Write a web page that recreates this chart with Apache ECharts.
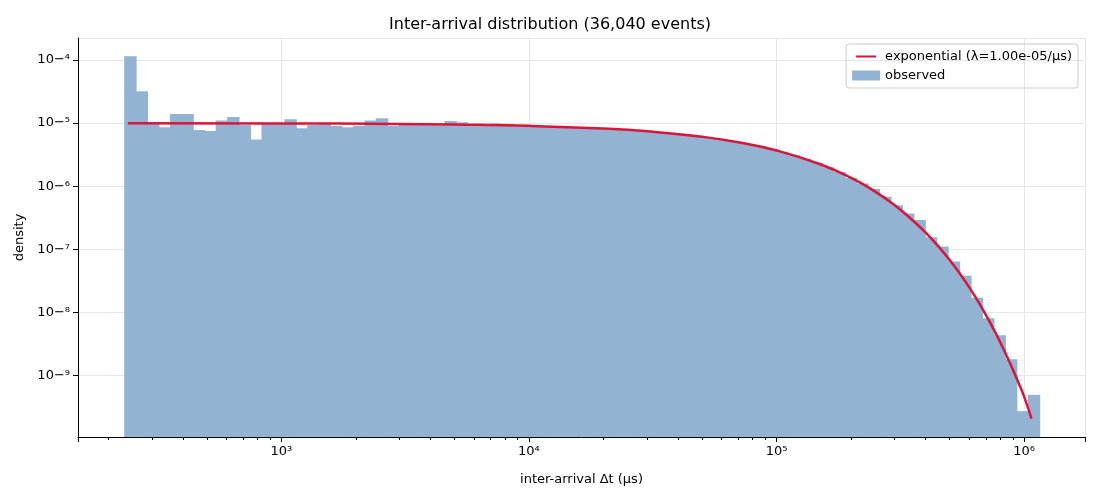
<!DOCTYPE html>
<html>
<head>
<meta charset="utf-8">
<script src="https://cdn.jsdelivr.net/npm/echarts@6/dist/echarts.min.js"></script>
<style>html,body{margin:0;padding:0;background:#fff}#main{width:1100px;height:500px}</style>
</head>
<body>
<div id="main"></div>
<script>
// histogram bins: log-spaced from binLo to binHi
const binLo = 232;
const binHi = 1.15e6;
const density = [
  1.15e-4, 3.2e-5, 1.0e-5, 8.6e-6, 1.39e-5, 1.39e-5, 7.8e-6, 7.5e-6, 1.1e-5, 1.25e-5,
  9.3e-6, 5.5e-6, 1.0e-5, 1.0e-5, 1.15e-5, 8.3e-6, 9.3e-6, 9.6e-6, 9.0e-6, 8.6e-6,
  9.0e-6, 1.1e-5, 1.2e-5, 9.0e-6, 9.6e-6, 9.66e-6, 9.62e-6, 9.58e-6, 1.08e-5, 1.03e-5,
  9.42e-6, 9.36e-6, 9.9e-6, 9.8e-6, 9.13e-6, 9.04e-6, 8.93e-6, 8.82e-6, 8.9e-6, 8.56e-6,
  8.41e-6, 8.25e-6, 8.08e-6, 7.89e-6, 7.68e-6, 7.46e-6, 7.21e-6, 6.95e-6, 6.68e-6, 6.38e-6,
  6.07e-6, 5.74e-6, 5.39e-6, 5.03e-6, 4.66e-6, 4.28e-6, 3.89e-6, 3.5e-6, 3.1e-6, 2.73e-6,
  2.36e-6, 2.0e-6, 1.68e-6, 1.35e-6, 1.1e-6, 9.0e-7, 6.8e-7, 5.0e-7, 3.7e-7, 2.9e-7,
  1.55e-7, 1.1e-7, 6.4e-8, 3.8e-8, 1.7e-8, 8.0e-9, 4.3e-9, 1.8e-9, 2.7e-10, 4.9e-10
];
const fitT = [240, 1000, 3000, 5000, 10000, 20000, 30000, 50000, 70000, 100000, 150000, 200000,
  250000, 300000, 350000, 400000, 450000, 500000, 550000, 600000, 650000, 700000, 750000,
  800000, 850000, 900000, 950000, 1000000, 1070000];
const fitY = [9.98e-6, 9.9e-6, 9.7e-6, 9.51e-6, 9.05e-6, 8.19e-6, 7.41e-6, 6.07e-6, 4.97e-6, 3.68e-6,
  2.23e-6, 1.35e-6, 8.2e-7, 4.98e-7, 3.0e-7, 1.83e-7, 1.11e-7, 6.74e-8, 4.09e-8, 2.48e-8, 1.5e-8,
  9.1e-9, 5.5e-9, 3.35e-9, 2.03e-9, 1.23e-9, 7.5e-10, 4.54e-10, 2.05e-10];

const nBins = density.length;
const step = (Math.log10(binHi) - Math.log10(binLo)) / nBins;
const bars = density.map((d, i) => [
  Math.pow(10, Math.log10(binLo) + step * i),
  Math.pow(10, Math.log10(binLo) + step * (i + 1)),
  d
]);
const fitData = fitT.map((t, i) => [t, fitY[i]]);
const yMin = 1.05e-10;

const sup = { '-': '\u2212', '0': '\u2070', '1': '\u00b9', '2': '\u00b2', '3': '\u00b3', '4': '\u2074',
  '5': '\u2075', '6': '\u2076', '7': '\u2077', '8': '\u2078', '9': '\u2079' };
function powLabel(v) {
  const e = Math.round(Math.log10(v));
  if (Math.abs(Math.log10(v) - e) > 1e-6) return '';
  return '10' + String(e).split('').map(c => sup[c]).join('');
}

const chart = echarts.init(document.getElementById('main'));
chart.setOption({
  animation: false,
  textStyle: { fontFamily: 'DejaVu Sans' },
  title: {
    text: 'Inter-arrival distribution (36,040 events)',
    left: 'center', top: 12,
    textStyle: { fontSize: 16, fontWeight: 'normal', color: '#000' }
  },
  legend: {
    top: 44, right: 22, orient: 'vertical', itemGap: 6, itemWidth: 28, itemHeight: 10,
    borderColor: '#ccc', borderWidth: 1, borderRadius: 3, padding: [6, 6],
    textStyle: { fontSize: 13, color: '#000' },
    data: [
      { name: 'exponential (\u03bb=1.00e-05/\u03bcs)', icon: 'path://M0,0h0.01v0.01h-0.01zM0,4h20v2h-20zM0,9.99h0.01v0.01h-0.01z', itemStyle: { color: '#dc143c' } },
      { name: 'observed', icon: 'rect', itemStyle: { color: '#92b3d1' } }
    ]
  },
  grid: { left: 78, right: 15, top: 38, bottom: 63 },
  xAxis: {
    type: 'log', logBase: 10, min: 151, max: 1.76e6,
    name: 'inter-arrival \u0394t (\u03bcs)', nameLocation: 'middle', nameGap: 36,
    nameTextStyle: { fontSize: 13, color: '#000' },
    axisLine: { lineStyle: { color: '#000' } },
    axisTick: { lineStyle: { color: '#000' }, length: 5 },
    minorTick: { show: true, splitNumber: 9, length: 3, lineStyle: { color: '#000' } },
    axisLabel: { color: '#000', fontSize: 13, formatter: powLabel, showMinLabel: false, showMaxLabel: false },
    splitLine: { show: true, lineStyle: { color: '#e6e6e6' } }
  },
  yAxis: {
    type: 'log', logBase: 10, min: yMin, max: 2.24e-4,
    name: 'density', nameLocation: 'middle', nameGap: 52,
    nameTextStyle: { fontSize: 13, color: '#000' },
    axisLine: { show: true, lineStyle: { color: '#000' } },
    axisTick: { show: true, lineStyle: { color: '#000' }, length: 5 },
    axisLabel: { color: '#000', fontSize: 13, formatter: powLabel, showMinLabel: false, showMaxLabel: false },
    splitLine: { show: true, lineStyle: { color: '#e6e6e6' } }
  },
  series: [
    {
      name: 'observed', type: 'custom', z: 2,
      renderItem: function (params, api) {
        const p0 = api.coord([api.value(0), api.value(2)]);
        const p1 = api.coord([api.value(1), yMin]);
        return {
          type: 'rect',
          shape: { x: p0[0], y: p0[1], width: p1[0] - p0[0] + 1, height: p1[1] - p0[1] },
          style: { fill: '#92b3d1' }
        };
      },
      encode: { x: [0, 1], y: 2 },
      data: bars
    },
    {
      name: 'exponential (\u03bb=1.00e-05/\u03bcs)', type: 'line', z: 3,
      showSymbol: false, smooth: true,
      lineStyle: { color: '#dc143c', width: 2.5 },
      itemStyle: { color: '#dc143c' },
      data: fitData
    }
  ]
});
</script>
</body>
</html>
